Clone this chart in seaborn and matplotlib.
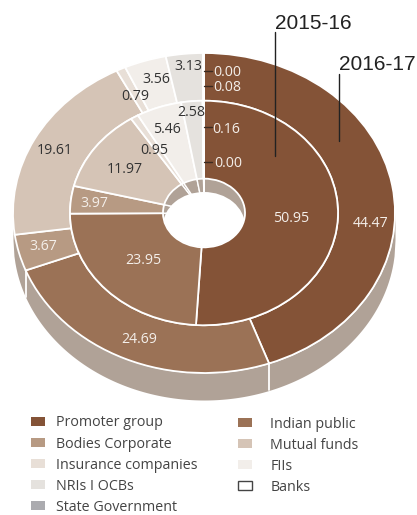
import numpy as np
import matplotlib
matplotlib.use('Agg')
import matplotlib.pyplot as plt
from matplotlib.patches import Ellipse, Patch
import seaborn as sns

categories = ['Promoter group', 'Indian public', 'Bodies Corporate', 'Mutual funds',
              'Insurance companies', 'FIIs', 'NRIs I OCBs', 'Banks', 'State Government']
values_1617 = [44.47, 24.69, 3.67, 19.61, 0.79, 3.56, 3.13, 0.00, 0.08]
values_1516 = [50.95, 23.95, 3.97, 11.97, 0.95, 5.46, 2.58, 0.00, 0.16]
colors = ['#845337', '#9b7256', '#b79a83', '#d5c4b6', '#e8dfd7',
          '#f2eeea', '#e5e2de', '#ffffff', '#ababaf']
legend_left = [0, 2, 4, 6, 8]
legend_right = [1, 3, 5, 7]

W, H = 417, 515
CX, CY = 204, 213
RX, RY = 191, 160
WALL = '#b0a297'

sns.set_theme(style='white')
plt.rcParams['font.family'] = ['Open Sans', 'DejaVu Sans']
pal = sns.color_palette(colors)

fig = plt.figure(figsize=(W / 100, H / 100), dpi=100)
ax = fig.add_axes([0, 0, 1, 1])

depth = 27 / RY
inner_r = 134 / RX
hole_r = 41 / RX
edge = dict(edgecolor='white', linewidth=1.3)

# side wall of the disc
xs = np.linspace(-1, 1, 400)
rim = -np.sqrt(1 - xs ** 2)
ax.fill_between(xs, rim, rim - depth, color=WALL, lw=0, zorder=0)

# back wall seen through the hole
ax.pie(values_1516, radius=hole_r * 1.02, startangle=90, counterclock=False,
       colors=[WALL] * len(colors), wedgeprops=dict(edgecolor='white', linewidth=1.0))
hole_clip = Ellipse((0, 0), 2 * hole_r, 2 * 34 / RY, transform=ax.transData)
white = Ellipse((0, -13 / RY), 2 * hole_r, 2 * 34 / RY, fc='white', ec='none')
ax.add_patch(white)
white.set_clip_path(hole_clip)

# the two rings
ax.pie(values_1617, radius=1, startangle=90, counterclock=False, colors=pal,
       wedgeprops=dict(width=1 - inner_r, **edge))
ax.pie(values_1516, radius=inner_r, startangle=90, counterclock=False, colors=pal,
       wedgeprops=dict(width=inner_r - hole_r, **edge))
white.set_zorder(5)

ax.set_aspect('auto')
ax.set_xlim((0 - CX) / RX, (W - CX) / RX)
ax.set_ylim((CY - H) / RY, CY / RY)
ax.axis('off')


def px(x, y):
    return (x - CX) / RX, (CY - y) / RY


# white joints running down the wall
for i in (0, 1):
    a = np.deg2rad(np.cumsum(values_1617)[i] * 3.6)
    x, y = np.sin(a), np.cos(a)
    ax.plot([x, x], [y, y - depth], color='white', lw=1.3, zorder=1)

dark = '#333333'
light = '#f4efea'
pos_1617 = [(371, 223), (139, 339), (43, 246), (55, 150), (135, 96),
            (156, 79), (188, 66), (227, 72), (227, 87)]
pos_1516 = [(291, 218), (143, 260), (94, 203), (125, 169), (154, 150),
            (167, 129), (191, 112), (228, 163), (226, 129)]
txt_cols = [light, light, light, dark, dark, dark, dark, light, light]
for vals, pos in ((values_1617, pos_1617), (values_1516, pos_1516)):
    for v, (x, y), c in zip(vals, pos, txt_cols):
        ax.text(*px(x, y), '%.2f' % v, color=c, fontsize=10.2, ha='center', va='center', zorder=6)

# little ticks beside the small values
for y in (71, 86, 127, 162):
    ax.plot(*zip(px(204, y), px(212, y)), color='#3a2a20', lw=1.0, zorder=6)

# year callouts
for label, x, ytxt, y0, y1 in (('2015-16', 275, 23, 32, 156), ('2016-17', 339, 64, 74, 141)):
    ax.text(*px(x, ytxt), label, family='Liberation Sans', fontsize=15, color='#222222',
            ha='left', va='center', zorder=6)
    ax.plot(*zip(px(x, y0), px(x, y1)), color='#222222', lw=1.0, zorder=6)


def legend_handles(idx):
    out = []
    for i in idx:
        if categories[i] == 'Banks':
            out.append(Patch(fc='white', ec='#444444', lw=1.0, label=categories[i]))
        else:
            out.append(Patch(fc=pal[i], ec='none', label=categories[i]))
    return out


leg_style = dict(frameon=False, fontsize=10.3, labelcolor='#444444', loc='upper left',
                 borderaxespad=0, borderpad=0, handlelength=1.0, handleheight=0.55,
                 labelspacing=0.42)
fig.legend(handles=legend_handles(legend_left), bbox_to_anchor=(31 / W, 1 - 415.5 / H),
           handletextpad=0.75, **leg_style)
fig.legend(handles=legend_handles(legend_right), bbox_to_anchor=(238 / W, 1 - 416.5 / H),
           handletextpad=1.25, **leg_style)

fig.savefig('out.png', dpi=100)
